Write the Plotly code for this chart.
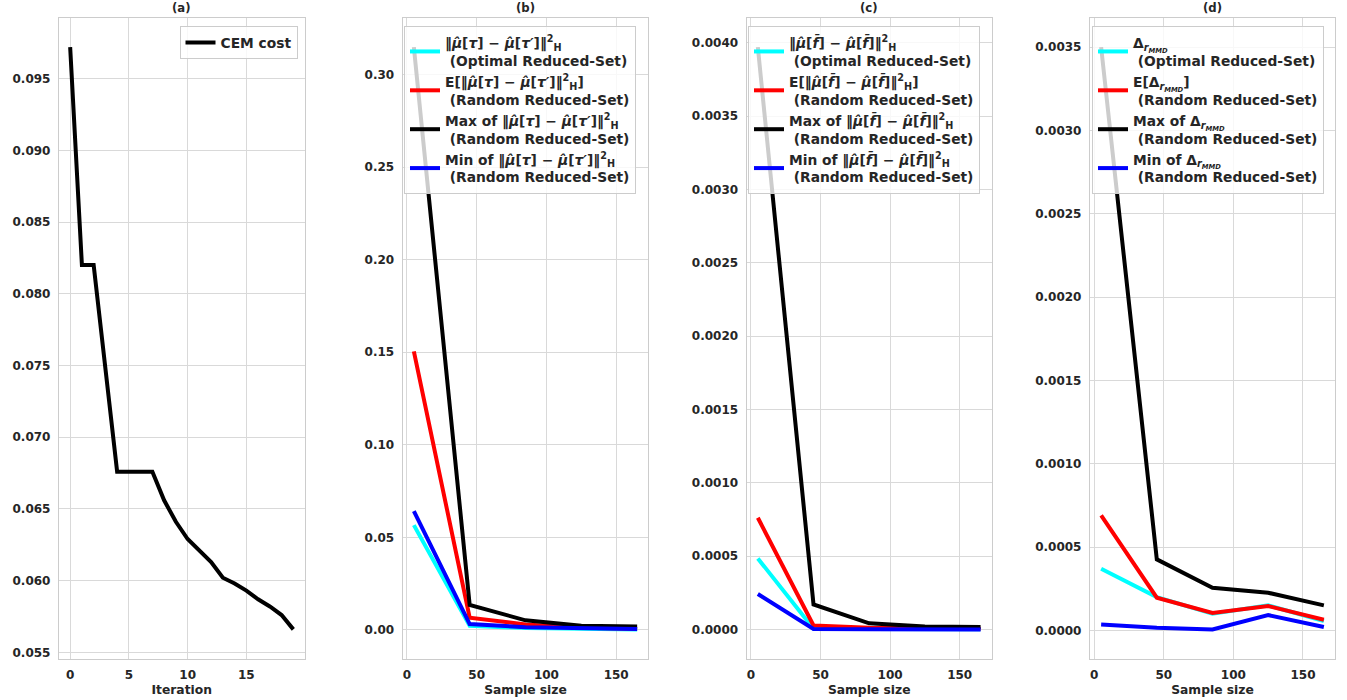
import plotly.graph_objects as go

# ---------------- data ----------------
iterations = list(range(20))
cem_cost = [0.0972, 0.0820, 0.0820, 0.0748, 0.0676, 0.0676, 0.0676, 0.0676, 0.0656, 0.0641,
            0.0629, 0.0621, 0.0613, 0.0602, 0.0598, 0.0593, 0.0587, 0.0582, 0.0576, 0.0566]

sample_sizes = [5, 45, 85, 125, 165]

b_opt = [0.0566, 0.0023, 0.0010, 0.0005, 0.0003]
b_mean = [0.1505, 0.0066, 0.0030, 0.0012, 0.0006]
b_max = [0.3148, 0.0135, 0.0052, 0.0023, 0.0018]
b_min = [0.0642, 0.0032, 0.0015, 0.0008, 0.0005]

c_opt = [0.000484, 0.000005, 0.000002, 0.000001, 0.000001]
c_mean = [0.000761, 0.000027, 0.000012, 0.000006, 0.000004]
c_max = [0.00397, 0.000170, 0.000041, 0.000020, 0.000017]
c_min = [0.000241, 0.000003, 0.000001, 0.0, 0.0]

d_opt = [0.000370, 0.000200, 0.000100, 0.000150, 0.000056]
d_mean = [0.000690, 0.000196, 0.000104, 0.000146, 0.000064]
d_max = [0.003500, 0.000426, 0.000256, 0.000226, 0.000150]
d_min = [0.000036, 0.000016, 0.000006, 0.000092, 0.000020]

panel_titles = ["(a)", "(b)", "(c)", "(d)"]
x_titles = ["Iteration", "Sample size", "Sample size", "Sample size"]

mu_t = "‖<i>μ̂</i>[<i>τ</i>] − <i>μ̂</i>[<i>τ′</i>]‖<sup>2</sup><sub>H</sub>"
mu_f = "‖<i>μ̂</i>[<i>f̄</i>] − <i>μ̂</i>[<i>f̄</i>]‖<sup>2</sup><sub>H</sub>"
delta = "Δ<sub><i>r<sub>MMD</sub></i></sub>"
opt_s = "<br> (Optimal Reduced-Set)"
rnd_s = "<br> (Random Reduced-Set)"

def names(expr):
    return [expr + opt_s, "E[" + expr + "]" + rnd_s,
            "Max of " + expr + rnd_s, "Min of " + expr + rnd_s]

colors = ["#00ffff", "#ff0000", "#000000", "#0000ff"]

# ---------------- figure geometry ----------------
W, H = 1347, 700


def px_x(p):
    return p / W


def px_y(p):
    return (H - p) / H


FONT = "DejaVu Sans"
TXT = "#262626"
GRID = "#d9d9d9"
EDGE = "#cccccc"

fig = go.Figure()

domains_x = [(px_x(59), px_x(304.5)), (px_x(402.7), px_x(648.3)),
             (px_x(746.7), px_x(991.7)), (px_x(1090), px_x(1335))]
domain_y = (px_y(658.5), px_y(18))

fig.add_trace(go.Scatter(x=iterations, y=cem_cost, mode="lines", name="CEM cost",
                         line=dict(color="black", width=4), xaxis="x", yaxis="y",
                         legend="legend", showlegend=True))

panel_series = [
    (2, [b_opt, b_mean, b_max, b_min], names(mu_t), "legend2"),
    (3, [c_opt, c_mean, c_max, c_min], names(mu_f), "legend3"),
    (4, [d_opt, d_mean, d_max, d_min], names(delta), "legend4"),
]
for idx, series, nms, leg in panel_series:
    for s, n, c in zip(series, nms, colors):
        fig.add_trace(go.Scatter(x=sample_sizes, y=s, mode="lines", name=n,
                                 line=dict(color=c, width=4), showlegend=True,
                                 xaxis=f"x{idx}", yaxis=f"y{idx}", legend=leg))


def pad_range(vals, frac=0.05):
    lo, hi = min(vals), max(vals)
    p = (hi - lo) * frac
    return [lo - p, hi + p]


y_data = [cem_cost, b_opt + b_mean + b_max + b_min, c_opt + c_mean + c_max + c_min,
          d_opt + d_mean + d_max + d_min]
x_data = [iterations, sample_sizes, sample_sizes, sample_sizes]
y_ticks = [
    dict(tickvals=[0.055, 0.060, 0.065, 0.070, 0.075, 0.080, 0.085, 0.090, 0.095], tickformat=".3f"),
    dict(tickvals=[0, 0.05, 0.10, 0.15, 0.20, 0.25, 0.30], tickformat=".2f"),
    dict(tickvals=[0, 0.0005, 0.001, 0.0015, 0.002, 0.0025, 0.003, 0.0035, 0.004], tickformat=".4f"),
    dict(tickvals=[0, 0.0005, 0.001, 0.0015, 0.002, 0.0025, 0.003, 0.0035], tickformat=".4f"),
]
x_ticks = [[0, 5, 10, 15], [0, 50, 100, 150], [0, 50, 100, 150], [0, 50, 100, 150]]

axis_common = dict(showgrid=True, gridcolor=GRID, gridwidth=1, zeroline=False,
                   showline=True, linecolor=EDGE, linewidth=1.25, mirror=True,
                   ticks="", automargin=False,
                   tickfont=dict(family=FONT, size=12, color=TXT, weight="bold"))

layout = dict(
    width=W, height=H, margin=dict(l=0, r=0, t=0, b=0, autoexpand=False),
    paper_bgcolor="white", plot_bgcolor="white", showlegend=True,
    font=dict(family=FONT, size=12, color=TXT, weight="bold"),
)
annotations = []
for i in range(4):
    sfx = "" if i == 0 else str(i + 1)
    layout["xaxis" + sfx] = dict(axis_common, domain=list(domains_x[i]),
                                 anchor="y" + sfx, range=pad_range(x_data[i]),
                                 tickvals=x_ticks[i], ticklabelstandoff=5,
                                 title=dict(text=x_titles[i], standoff=4,
                                            font=dict(family=FONT, size=12.3, color=TXT, weight="bold")))
    layout["yaxis" + sfx] = dict(axis_common, domain=list(domain_y),
                                 anchor="x" + sfx, range=pad_range(y_data[i]),
                                 ticklabelstandoff=5, **y_ticks[i])
    annotations.append(dict(text=panel_titles[i], xref="paper", yref="paper",
                            x=(domains_x[i][0] + domains_x[i][1]) / 2, y=px_y(8.5),
                            xanchor="center", yanchor="middle", showarrow=False,
                            font=dict(family=FONT, size=11.7, color=TXT, weight="bold")))
layout["annotations"] = annotations

leg_common = dict(bgcolor="rgba(255,255,255,0.8)", bordercolor=EDGE, borderwidth=1,
                  font=dict(family=FONT, size=13.8, color=TXT, weight="bold"),
                  yanchor="top", tracegroupgap=2, itemwidth=30, visible=True)
layout["legend"] = dict(leg_common, x=px_x(297.5), xanchor="right", y=px_y(26))
layout["legend2"] = dict(leg_common, x=px_x(404), xanchor="left", y=px_y(26))
layout["legend3"] = dict(leg_common, x=px_x(748), xanchor="left", y=px_y(26))
layout["legend4"] = dict(leg_common, x=px_x(1092), xanchor="left", y=px_y(26))

fig.update_layout(**layout)
# remove the default 8px page margin so the figure sits at the window's top-left corner
fig.write_html("out.html", config={"displayModeBar": False},
               post_script="document.body.style.margin='0px';")
